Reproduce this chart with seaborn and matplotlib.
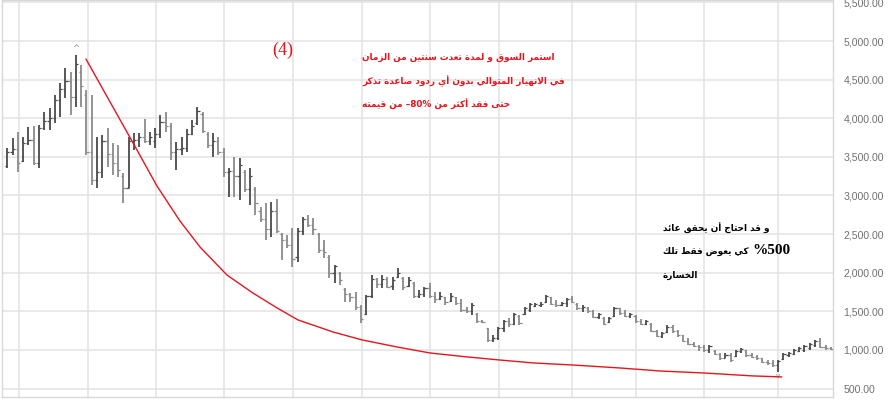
import numpy as np
import matplotlib
matplotlib.use("Agg")
import matplotlib.pyplot as plt
import seaborn as sns

# weekly OHLC
highs = [3615, 3745, 3822, 3757, 3887, 3900, 3913, 4081, 4133, 4300,
         4456, 4650, 4600, 4819, 4690, 4366, 4300, 3757, 3783, 3874,
         3680, 3654, 3292, 3757, 3809, 3809, 3990, 3822, 3874, 4043,
         4081, 3939, 3693, 3757, 3861, 3978, 4146, 4081, 3822, 3809,
         3757, 3615, 3357, 3499, 3486, 3331, 3357, 3111, 2852, 2904,
         2917, 2960, 2516, 2490, 2581, 2581, 2723, 2749, 2710, 2516,
         2425, 2231, 2101, 2011, 1804, 1739, 1752, 1584, 1713, 1972,
         1933, 1972, 1946, 1946, 2063, 1946, 1946, 1882, 1778, 1817,
         1869, 1752, 1752, 1688, 1739, 1688, 1662, 1558, 1610, 1480,
         1390, 1286, 1196, 1299, 1390, 1416, 1480, 1455, 1558, 1610,
         1610, 1623, 1713, 1688, 1649, 1623, 1674, 1700, 1610, 1584,
         1558, 1519, 1480, 1429, 1429, 1558, 1545, 1519, 1480, 1455,
         1403, 1390, 1351, 1260, 1235, 1325, 1325, 1260, 1196, 1157,
         1105, 1066, 1066, 1066, 1001, 962, 962, 962, 1001, 1027,
         1001, 962, 937, 898, 872, 872, 872, 962, 975, 1014,
         1040, 1066, 1092, 1131, 1157, 1066, 1040]
lows = [3357, 3525, 3305, 3434, 3654, 3395, 3357, 3848, 3848, 3939,
        4017, 4262, 4043, 4146, 4146, 3525, 3137, 3098, 3227, 3370,
        3266, 3240, 2904, 3098, 3590, 3628, 3680, 3654, 3615, 3745,
        3822, 3460, 3330, 3525, 3564, 3783, 3913, 3809, 3615, 3499,
        3525, 3240, 2982, 2982, 2943, 3046, 2878, 2749, 2658, 2425,
        2464, 2520, 2166, 2322, 2076, 2140, 2490, 2593, 2490, 2257,
        2192, 1933, 1869, 1843, 1623, 1623, 1519, 1351, 1455, 1674,
        1804, 1804, 1804, 1778, 1933, 1778, 1817, 1674, 1674, 1688,
        1674, 1610, 1649, 1584, 1623, 1584, 1493, 1480, 1455, 1351,
        1351, 1105, 1105, 1131, 1235, 1299, 1325, 1325, 1455, 1493,
        1558, 1558, 1610, 1584, 1558, 1571, 1558, 1610, 1519, 1493,
        1480, 1416, 1403, 1325, 1351, 1429, 1455, 1429, 1416, 1351,
        1325, 1325, 1235, 1170, 1157, 1222, 1222, 1170, 1105, 1066,
        1040, 990, 975, 962, 937, 872, 898, 846, 911, 962,
        911, 898, 872, 833, 807, 782, 717, 872, 911, 937,
        975, 975, 1001, 1040, 1027, 1001, 1001]
opens = [3380, 3560, 3600, 3450, 3680, 3720, 3420, 3880, 3960, 4000,
         4230, 4380, 4480, 4270, 4600, 4300, 3560, 3200, 3300, 3700,
         3540, 3420, 3250, 3100, 3700, 3720, 3760, 3700, 3700, 3800,
         3950, 3900, 3560, 3600, 3620, 3800, 3940, 4060, 3800, 3660,
         3700, 3560, 3300, 3320, 3250, 3300, 3080, 3080, 2800, 2700,
         2560, 2800, 2500, 2420, 2360, 2200, 2540, 2690, 2620, 2500,
         2300, 2200, 2000, 2000, 1790, 1720, 1680, 1560, 1460, 1700,
         1920, 1860, 1920, 1830, 1950, 1930, 1830, 1870, 1700, 1720,
         1800, 1700, 1660, 1680, 1640, 1680, 1610, 1520, 1500, 1470,
         1380, 1280, 1130, 1150, 1280, 1370, 1330, 1440, 1460, 1520,
         1570, 1580, 1620, 1680, 1600, 1580, 1610, 1660, 1600, 1540,
         1540, 1500, 1430, 1420, 1360, 1440, 1540, 1480, 1440, 1440,
         1380, 1340, 1340, 1250, 1180, 1230, 1300, 1240, 1190, 1120,
         1080, 1050, 1040, 1000, 990, 950, 900, 940, 920, 990,
         1000, 930, 910, 890, 850, 830, 800, 880, 930, 950,
         990, 1000, 1030, 1060, 1120, 1040, 1020]
closes = [3560, 3600, 3420, 3680, 3720, 3420, 3880, 3960, 4000, 4230,
          4380, 4480, 4270, 4700, 4420, 3560, 3200, 3300, 3700, 3540,
          3420, 3330, 3098, 3700, 3720, 3760, 3700, 3760, 3800, 3950,
          3900, 3560, 3600, 3620, 3800, 3900, 4100, 3830, 3660, 3700,
          3560, 3300, 3320, 3250, 3400, 3080, 3250, 2900, 2700, 2560,
          2800, 2540, 2420, 2360, 2180, 2540, 2690, 2620, 2560, 2300,
          2270, 1990, 2090, 1900, 1720, 1680, 1560, 1400, 1700, 1920,
          1860, 1920, 1820, 1900, 2000, 1810, 1900, 1700, 1720, 1800,
          1700, 1660, 1700, 1620, 1700, 1610, 1520, 1500, 1580, 1380,
          1360, 1130, 1150, 1280, 1370, 1330, 1460, 1350, 1540, 1590,
          1600, 1600, 1700, 1600, 1580, 1610, 1660, 1620, 1540, 1560,
          1500, 1430, 1460, 1340, 1420, 1540, 1480, 1440, 1460, 1370,
          1340, 1370, 1250, 1180, 1220, 1300, 1240, 1190, 1120, 1080,
          1050, 1040, 1000, 1050, 950, 890, 940, 870, 990, 1010,
          930, 910, 890, 850, 830, 800, 860, 950, 960, 1000,
          1030, 1050, 1080, 1120, 1040, 1020, 1010]

# hand-drawn decay curve (week index, price)
curve_weeks = [14.9, 24.2, 28.35, 32.7, 36.5, 41.6, 46.5, 51.1, 55.05, 61.7,
               67.2, 73.8, 80.05, 87.1, 93.1, 99.6, 106.9, 116.0, 123.6, 131.9,
               141.2, 146.7]
curve_values = [4767, 3634, 3123, 2670, 2333, 1971, 1738, 1544, 1389, 1233,
                1130, 1039, 961, 910, 871, 832, 806, 767, 728, 702,
                664, 651]

grid_weeks = [2.2, 15.3, 28.2, 41.1, 54.1, 67.2, 80.1, 93.2, 106.9, 119.1, 131.9, 146.0]
y_ticks = [500, 1000, 1500, 2000, 2500, 3000, 3500, 4000, 4500, 5000, 5500]

red_lines = ["استمر السوق و لمدة تعدت سنتين من الزمان",
             "في الانهيار المتوالي بدون أي ردود صاعدة تذكر",
             "حتى فقد أكثر من –80% من قيمته"]
black_lines = ["و قد احتاج أن يحقق عائد",
               "كي يعوض فقط تلك",
               "الخسارة"]
black_pct = "500%"

# --- minimal arabic shaping (matplotlib has no bidi / joining) ---
DUAL = {'ب': 0xFE8F, 'ت': 0xFE95, 'ث': 0xFE99, 'ج': 0xFE9D, 'ح': 0xFEA1, 'خ': 0xFEA5,
        'س': 0xFEB1, 'ش': 0xFEB5, 'ص': 0xFEB9, 'ض': 0xFEBD, 'ط': 0xFEC1, 'ظ': 0xFEC5,
        'ع': 0xFEC9, 'غ': 0xFECD, 'ف': 0xFED1, 'ق': 0xFED5, 'ك': 0xFED9, 'ل': 0xFEDD,
        'م': 0xFEE1, 'ن': 0xFEE5, 'ه': 0xFEE9, 'ي': 0xFEF1, 'ئ': 0xFE89}
RIGHT = {'ا': 0xFE8D, 'أ': 0xFE83, 'إ': 0xFE87, 'آ': 0xFE81, 'ة': 0xFE93, 'د': 0xFEA9,
         'ذ': 0xFEAB, 'ر': 0xFEAD, 'ز': 0xFEAF, 'و': 0xFEED, 'ى': 0xFEEF, 'ؤ': 0xFE85}
LAM_ALEF = {'ا': 0xFEFB, 'أ': 0xFEF7, 'إ': 0xFEF9, 'آ': 0xFEF5}


def shape(word):
    units = []
    i = 0
    while i < len(word):
        if word[i] == 'ل' and i + 1 < len(word) and word[i + 1] in LAM_ALEF:
            units.append(word[i:i + 2])
            i += 2
        else:
            units.append(word[i])
            i += 1
    out = []
    for k, u in enumerate(units):
        pj = k > 0 and units[k - 1] in DUAL
        nj = k + 1 < len(units) and (units[k + 1] in DUAL or units[k + 1] in RIGHT
                                     or len(units[k + 1]) == 2)
        if len(u) == 2:
            out.append(chr(LAM_ALEF[u[1]] + pj))
        elif u in DUAL:
            form = (3 if pj else 2) if nj else (1 if pj else 0)
            out.append(chr(DUAL[u] + form))
        elif u in RIGHT:
            out.append(chr(RIGHT[u] + pj))
        else:
            out.append(u)
    return ''.join(reversed(out))


def visual(line):
    toks = []
    for t in line.split(' '):
        if any(ch.isdigit() for ch in t):
            if t[0].isdigit() and t.endswith('%'):
                t = '%' + t[:-1]
            toks.append(t)
        else:
            toks.append(shape(t))
    return ' '.join(reversed(toks))


sns.set_theme(style="white")
plt.rcParams['font.family'] = ['DejaVu Sans']
AR_FONT = ['DejaVu Sans Condensed', 'DejaVu Sans']

W, H = 888, 400
fig = plt.figure(figsize=(W / 100, H / 100), dpi=100)
ax = fig.add_axes([2 / W, 3 / H, 831 / W, 397 / H])

x = np.arange(len(highs))
o = np.array(opens)
c = np.array(closes)
cols = np.where(c >= o, '#4a4a4a', '#8a8a8a')

ax.vlines(x, lows, highs, colors=cols, lw=1.3, zorder=3)
ax.hlines(o, x - 0.42, x, colors=cols, lw=0.9, zorder=3)
ax.hlines(c, x, x + 0.42, colors=cols, lw=0.9, zorder=3)

sns.lineplot(x=curve_weeks, y=curve_values, ax=ax, color='#e8141c', lw=1.0, zorder=4)

# tiny high / low markers
pk = int(np.argmax(highs))
lo = int(np.argmin(lows))
ax.text(pk, highs[pk] + 25, '^', ha='center', va='bottom', fontsize=6, color='#888888')
ax.text(lo, lows[lo] - 20, 'v', ha='center', va='top', fontsize=5, color='#888888')

ax.set_xlim(-1.0, 156.4)
ax.set_ylim(391, 5531)
ax.set_xticks(grid_weeks)
ax.set_xticklabels([])
ax.set_yticks(y_ticks)
ax.set_yticklabels([f"{v:,.2f}" for v in y_ticks], fontfamily='Liberation Sans')
ax.yaxis.tick_right()
ax.tick_params(axis='y', length=0, pad=7.5, labelsize=7.6, labelcolor='#707070')
ax.tick_params(axis='x', length=0)
ax.grid(True, color='#e3e3e3', lw=1.1)
ax.set_axisbelow(True)
for s in ax.spines.values():
    s.set_color('#d8d8d8')
    s.set_linewidth(1.0)

# annotations
fig.text(283 / W, 1 - 50 / H, "(4)", color='#e8141c', fontsize=13,
         family='Liberation Serif', ha='center', va='center')
for line, yy in zip(red_lines, [57, 81, 104]):
    fig.text(362 / W, 1 - yy / H, visual(line), color='#e8141c', fontsize=6.4,
             family=AR_FONT, weight='bold', ha='left', va='center')

fig.text(663 / W, 1 - 228 / H, visual(black_lines[0]), color='black', fontsize=6.4,
         family=AR_FONT, weight='bold', ha='left', va='center')
fig.text(663 / W, 1 - 251 / H, visual(black_lines[1]), color='black', fontsize=6.4,
         family=AR_FONT, weight='bold', ha='left', va='center')
fig.text(752 / W, 1 - 250 / H, visual(black_pct), color='black', fontsize=11,
         family='Liberation Serif', weight='bold', ha='left', va='center')
fig.text(663 / W, 1 - 275 / H, visual(black_lines[2]), color='black', fontsize=6.4,
         family=AR_FONT, weight='bold', ha='left', va='center')

fig.savefig("out.png", dpi=100)
